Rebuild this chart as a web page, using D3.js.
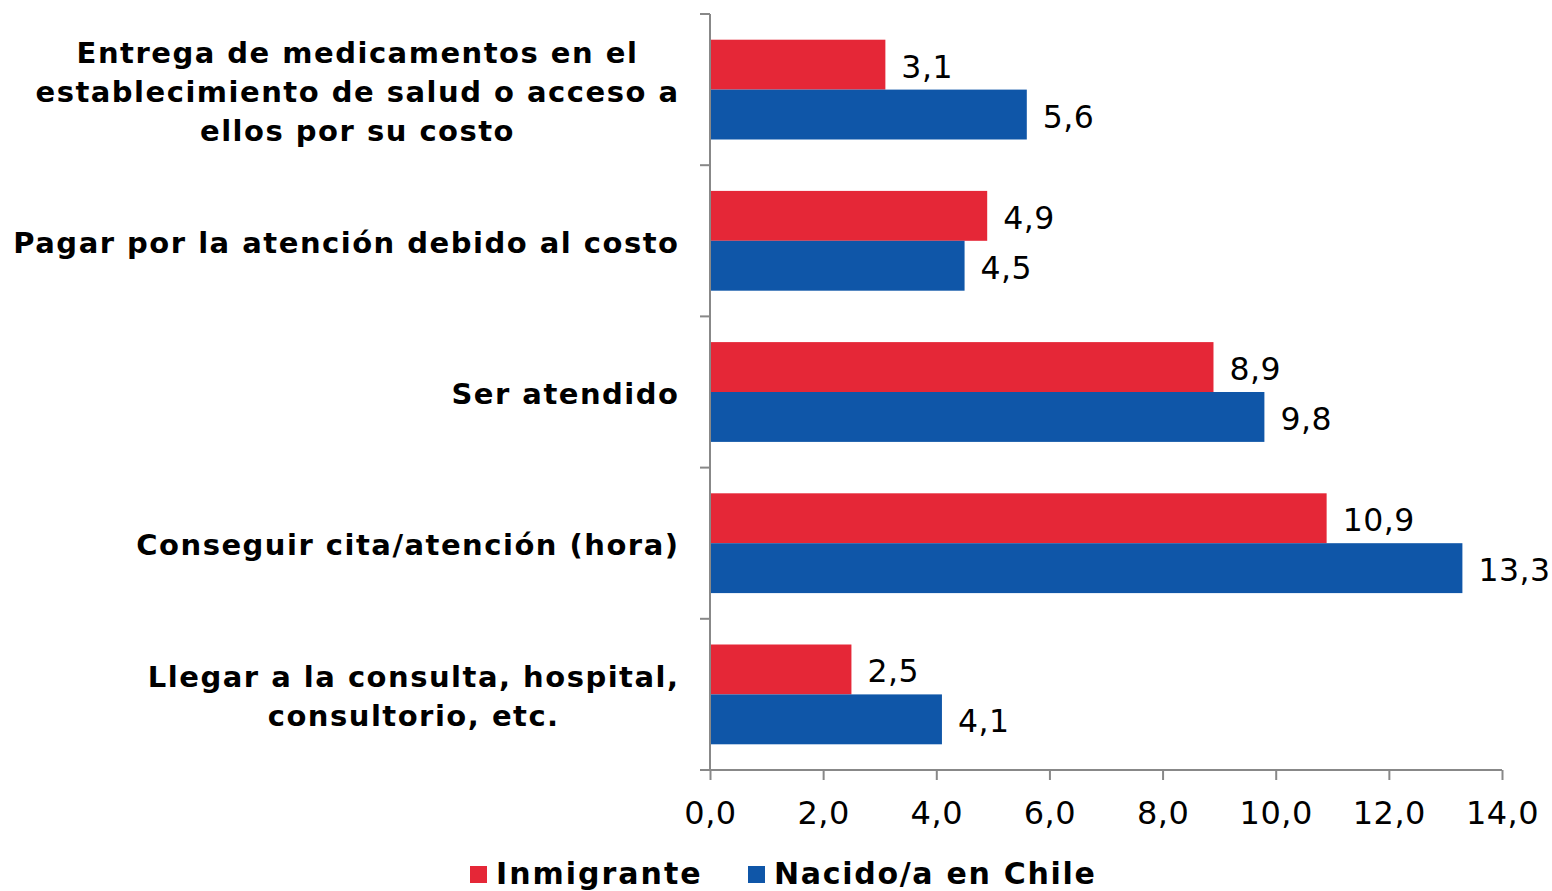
<!DOCTYPE html>
<html>
<head>
<meta charset="utf-8">
<script src="https://cdn.jsdelivr.net/npm/d3@7"></script>
<style>
  body { margin: 0; background: #fff; }
  svg { display: block; font-family: "DejaVu Sans", Verdana, sans-serif; }
</style>
</head>
<body>
<svg width="1552" height="891"></svg>
<script>
const categories = [
  ["Entrega de medicamentos en el", "establecimiento de salud o acceso a", "ellos por su costo"],
  ["Pagar por la atención debido al costo"],
  ["Ser atendido"],
  ["Conseguir cita/atención (hora)"],
  ["Llegar a la consulta, hospital,", "consultorio, etc."]
];
const seriesNames = ["Inmigrante", "Nacido/a en Chile"];
const inmigrante = [3.1, 4.9, 8.9, 10.9, 2.5];
const nacido = [5.6, 4.5, 9.8, 13.3, 4.1];
const xTicks = [0, 2, 4, 6, 8, 10, 12, 14];
const colors = ["#e52737", "#0f56a8"];

const svg = d3.select("svg");
const margin = { top: 14, left: 710 };
const innerW = 1502 - margin.left;
const innerH = 770 - margin.top;
const fmt = (v) => d3.format(".1f")(v).replace(".", ",");

const x = d3.scaleLinear().domain([0, 14]).range([0, innerW]);
const y = d3.scaleBand().domain(d3.range(categories.length)).range([0, innerH]).paddingInner(0.34).paddingOuter(0.17);
const sub = d3.scaleBand().domain([0, 1]).range([0, y.bandwidth()]);

const g = svg.append("g").attr("transform", `translate(${margin.left},${margin.top})`);

const data = categories.map((c, i) => ({ i, vals: [inmigrante[i], nacido[i]] }));

const groups = g.selectAll(".grp").data(data).enter().append("g")
  .attr("transform", d => `translate(0,${y(d.i)})`);

groups.selectAll("rect").data(d => d.vals.map((v, k) => ({ v, k }))).enter().append("rect")
  .attr("x", 0)
  .attr("y", d => sub(d.k))
  .attr("width", d => x(d.v))
  .attr("height", sub.bandwidth())
  .attr("fill", d => colors[d.k]);

groups.selectAll("text.val").data(d => d.vals.map((v, k) => ({ v, k }))).enter().append("text")
  .attr("class", "val")
  .attr("x", d => x(d.v) + 16)
  .attr("y", d => sub(d.k) + sub.bandwidth() / 2 + 13)
  .attr("font-size", 31.5)
  .attr("letter-spacing", 0.5)
  .attr("fill", "#000")
  .text(d => fmt(d.v));

// category labels: block right-aligned near the axis, lines centered within block
const bandStep = innerH / categories.length;
categories.forEach((lines, i) => {
  const cy = i * bandStep + bandStep / 2;
  const lh = 39;
  const t = g.append("text")
    .attr("text-anchor", "middle")
    .attr("font-size", 29)
    .attr("font-weight", "bold")
    .attr("letter-spacing", 1.5)
    .attr("fill", "#000");
  const spans = lines.map((ln, j) => t.append("tspan")
    .attr("y", cy + (j - (lines.length - 1) / 2) * lh + 12)
    .text(ln));
  const maxW = d3.max(spans, s => s.node().getComputedTextLength());
  spans.forEach(s => s.attr("x", -30.5 - maxW / 2));
});

// x axis
const xAxis = g.append("g").attr("transform", `translate(0,${innerH})`)
  .call(d3.axisBottom(x).tickValues(xTicks).tickFormat(fmt).tickSize(10).tickSizeOuter(0));
xAxis.select(".domain").attr("stroke", "#888").attr("stroke-width", 2).attr("d", `M-10,0H${innerW}`);
xAxis.selectAll(".tick line").attr("stroke", "#888").attr("stroke-width", 2);
xAxis.selectAll(".tick text").attr("y", 54).attr("dy", 0)
  .attr("font-size", 32).attr("letter-spacing", 0.5).attr("fill", "#000").attr("font-family", "DejaVu Sans");

// y axis line with ticks at band boundaries
g.append("line").attr("x1", 0).attr("x2", 0).attr("y1", 0).attr("y2", innerH)
  .attr("stroke", "#888").attr("stroke-width", 2);
g.selectAll(".ytick").data(d3.range(categories.length + 1)).enter().append("line")
  .attr("x1", -10).attr("x2", 0)
  .attr("y1", d => d * bandStep).attr("y2", d => d * bandStep)
  .attr("stroke", "#888").attr("stroke-width", 2);

// legend
const legend = svg.append("g");
const legX = [470, 748];
const legLs = [2, 1.7];
seriesNames.forEach((s, k) => {
  legend.append("rect").attr("x", legX[k]).attr("y", 866).attr("width", 17).attr("height", 17).attr("fill", colors[k]);
  legend.append("text").attr("x", legX[k] + 26).attr("y", 884)
    .attr("font-size", 30).attr("font-weight", "bold").attr("letter-spacing", legLs[k])
    .attr("fill", "#000").text(s);
});
</script>
</body>
</html>
